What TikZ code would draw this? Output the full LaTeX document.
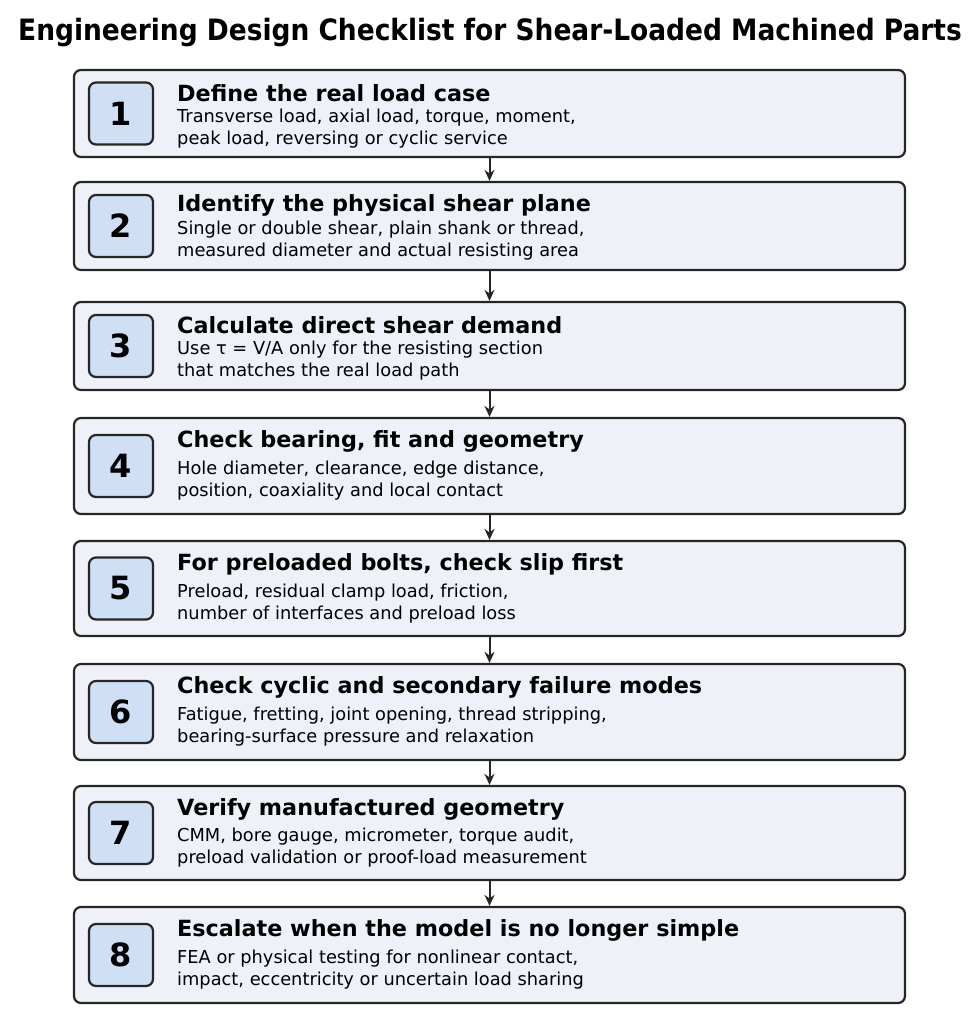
\documentclass[tikz,border=0pt]{standalone}
\usepackage{fontspec}
\setmainfont{DejaVu Sans}
\newfontfamily\condb{DejaVu Sans Condensed}[BoldFont={DejaVu Sans Condensed Bold}]
\usetikzlibrary{arrows.meta}
\definecolor{boxfill}{HTML}{EEF2F8}
\definecolor{numfill}{HTML}{CFE0F5}
\tikzset{
  stepbox/.style={draw=black!85,line width=2.2pt,rounded corners=7pt,fill=boxfill,inner sep=0pt,minimum width=831pt},
  num/.style={draw=black!85,line width=2.2pt,rounded corners=7pt,fill=numfill,minimum width=64pt,minimum height=62pt,font=\fontsize{32}{32}\selectfont\bfseries},
  head/.style={anchor=west,inner sep=0pt,font=\fontsize{22.3}{22}\selectfont\bfseries},
  body/.style={anchor=west,inner sep=0pt,font=\fontsize{17.8}{21}\selectfont,align=left},
  arr/.style={-{Stealth[length=11pt,width=10pt]},line width=2pt,black!85}
}
\begin{document}
\begin{tikzpicture}[x=1pt,y=-1pt]
\useasboundingbox (0,0) rectangle (979,1024);
\node[anchor=center,inner sep=0pt,font=\condb\fontsize{29.4}{30}\selectfont\bfseries] (title) at (490,33) {Engineering Design Checklist for Shear-Loaded Machined Parts};
\foreach \i/\t/\b/\h/\la/\lb in {
 1/70/157/Define the real load case/{Transverse load, axial load, torque, moment,}/{peak load, reversing or cyclic service},
 2/182/270/Identify the physical shear plane/{Single or double shear, plain shank or thread,}/{measured diameter and actual resisting area},
 3/302/390/Calculate direct shear demand/{Use τ = V/A only for the resisting section}/{that matches the real load path},
 4/418/514/{Check bearing, fit and geometry}/{Hole diameter, clearance, edge distance,}/{position, coaxiality and local contact},
 5/541/636/{For preloaded bolts, check slip first}/{Preload, residual clamp load, friction,}/{number of interfaces and preload loss},
 6/664/760/Check cyclic and secondary failure modes/{Fatigue, fretting, joint opening, thread stripping,}/{bearing-surface pressure and relaxation},
 7/786/880/Verify manufactured geometry/{CMM, bore gauge, micrometer, torque audit,}/{preload validation or proof-load measurement},
 8/907/1003/Escalate when the model is no longer simple/{FEA or physical testing for nonlinear contact,}/{impact, eccentricity or uncertain load sharing}} {
  \pgfmathsetmacro{\hh}{\b-\t}
  \node[stepbox,minimum height=\hh pt] (box\i) at (489.5,{(\t+\b)/2}) {};
  \node[num] (num\i) at (121,{(\t+\b)/2}) {\i};
  \node[head] (head\i) at (177,{\t+23}) {\h};
  \node[body] (la\i) at (177,{(\t+\b)/2+4}) {\la};
  \node[body] (lb\i) at (177,{(\t+\b)/2+26}) {\lb};
}
\foreach \i/\j in {1/2,2/3,3/4,4/5,5/6,6/7,7/8}
  \draw[arr] (box\i.south) -- (box\j.north);
\end{tikzpicture}
\end{document}
